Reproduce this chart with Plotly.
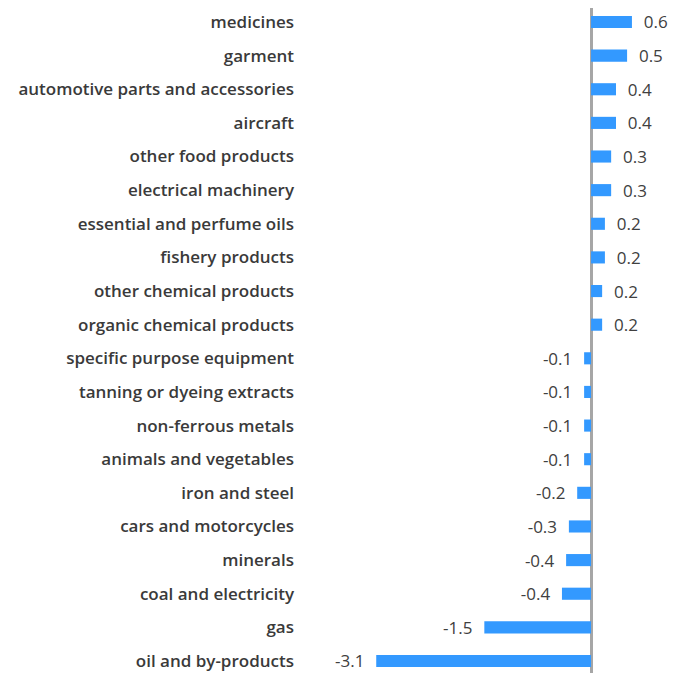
import plotly.graph_objects as go

categories = [
    "medicines", "garment", "automotive parts and accessories", "aircraft",
    "other food products", "electrical machinery", "essential and perfume oils",
    "fishery products", "other chemical products", "organic chemical products",
    "specific purpose equipment", "tanning or dyeing extracts", "non-ferrous metals",
    "animals and vegetables", "iron and steel", "cars and motorcycles", "minerals",
    "coal and electricity", "gas", "oil and by-products",
]
values = [0.59, 0.52, 0.36, 0.36, 0.29, 0.29, 0.2, 0.2, 0.16, 0.16,
          -0.1, -0.1, -0.1, -0.1, -0.2, -0.32, -0.36, -0.42, -1.54, -3.1]
labels = ["0.6", "0.5", "0.4", "0.4", "0.3", "0.3", "0.2", "0.2", "0.2", "0.2",
          "-0.1", "-0.1", "-0.1", "-0.1", "-0.2", "-0.3", "-0.4", "-0.4", "-1.5", "-3.1"]

# pad the labels a bit away from the bar ends
texts = ["  " + t if v > 0 else t + "  " for t, v in zip(labels, values)]

fig = go.Figure(go.Bar(
    x=values, y=categories, orientation="h",
    marker=dict(color="#3399ff", line=dict(width=0)),
    text=texts, textposition="outside", cliponaxis=False, constraintext="none",
    textfont=dict(family="Open Sans", size=17, color="#404040"),
))

fig.update_layout(
    width=687, height=673,
    margin=dict(l=292, r=0, t=0, b=0),
    plot_bgcolor="white", paper_bgcolor="white",
    bargap=0.64, showlegend=False,
    font=dict(family="Open Sans", size=14, color="#404040"),
)
fig.update_xaxes(range=[-4.2, 1.5], showgrid=False, showticklabels=False,
                 zeroline=True, zerolinecolor="#a6a6a6", zerolinewidth=3,
                 automargin=False)
fig.update_yaxes(range=[19.595, -0.416], showgrid=False, ticks="",
                 tickfont=dict(family="Open Sans", size=17, color="#3a3a3a", weight=600),
                 ticklabelstandoff=5, automargin=False)

fig.write_html("out.html")
